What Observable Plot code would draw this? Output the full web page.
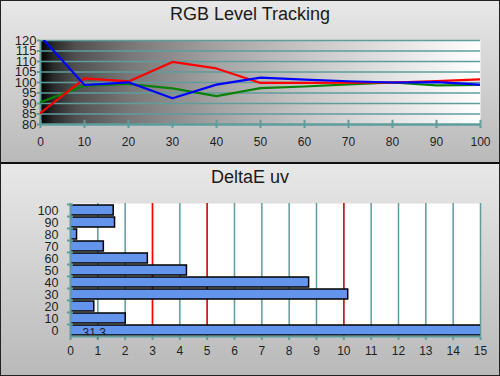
<!DOCTYPE html>
<html>
<head>
<meta charset="utf-8">
<script src="https://cdn.jsdelivr.net/npm/d3@7"></script>
<script src="https://cdn.jsdelivr.net/npm/@observablehq/plot@0.6"></script>
<style>
  html, body { margin: 0; padding: 0; background: #fff; }
  #chart { position: relative; width: 500px; height: 376px; overflow: hidden; font-family: "Liberation Sans", Arial, sans-serif; }
  .panel { position: absolute; left: 0; width: 500px; background: linear-gradient(#e8e8e8, #b9b9b9); }
  .panel svg { position: absolute; left: 0; top: 0; overflow: visible; }
  .title { position: absolute; left: 0; width: 500px; top: 5px; text-align: center; font-size: 18px; line-height: 18px; color: #1a1a1a; z-index: 2; }
  #p2 .title { top: 4px; }
  .panel svg text { fill: #1e1e1e; }
  #p1 [aria-label^="y-axis"] text { font-size: 13px; }
  #p2 [aria-label^="y-axis"] text { font-size: 12.5px; }
  [aria-label^="x-axis"] line, [aria-label^="x-axis"] path { stroke-width: 2px; }
  [aria-label^="y-axis"] line, [aria-label^="y-axis"] path { stroke-width: 2px; }
  #border { position: absolute; left: 0; top: 0; width: 500px; height: 376px; box-sizing: border-box; border: 1px solid #222; pointer-events: none; z-index: 5; }
  #divider { position: absolute; left: 0; top: 162px; width: 500px; height: 2px; background: #111; z-index: 5; }
</style>
</head>
<body>
<div id="chart">
  <div class="panel" id="p1" style="top:0;height:163px;"><div class="title">RGB Level Tracking</div></div>
  <div class="panel" id="p2" style="top:164px;height:212px;"><div class="title">DeltaE uv</div></div>
  <div id="divider"></div>
  <div id="border"></div>
</div>
<script>
// ---- Data: RGB Level Tracking ----
const levels = [0, 10, 20, 30, 40, 50, 60, 70, 80, 90, 100];
const redValues   = [85.5, 102, 100.5, 109.8, 106.7, 99.8, 99.8, 99.9, 100, 100.7, 101.5];
const greenValues = [90.6, 98.5, 99.3, 97.2, 93.5, 97.3, 98.1, 99.1, 100, 98.6, 98.8];
const blueValues  = [122, 98.8, 100.1, 92.5, 99, 102.3, 101.4, 100.6, 100, 100.2, 99];
const levelTicks = [0, 10, 20, 30, 40, 50, 60, 70, 80, 90, 100];
const percentTicks = [80, 85, 90, 95, 100, 105, 110, 115, 120];

// ---- Data: DeltaE uv ----
const deCategories = ["100", "90", "80", "70", "60", "50", "40", "30", "20", "10", "0"];
const deValues = [1.58, 1.63, 0.24, 1.22, 2.83, 4.26, 8.73, 10.16, 0.87, 2.02, 31.3];
const deTicks = [0, 1, 2, 3, 4, 5, 6, 7, 8, 9, 10, 11, 12, 13, 14, 15];
const deLimits = [3, 5, 10];

const teal = "#5f9c9c";
const font = "'Liberation Sans', Arial, sans-serif";

const series = (vals) => levels.map((l, i) => ({level: l, value: vals[i]}));

const topChart = Plot.plot({
  width: 500, height: 163,
  marginLeft: 40, marginRight: 20, marginTop: 40, marginBottom: 39,
  style: {background: "transparent", color: teal, fontFamily: font, fontSize: "12px"},
  x: {domain: [0, 100], ticks: levelTicks, tickSize: 4, tickPadding: 9, tickFormat: d => d, label: null},
  y: {domain: [80, 120], ticks: percentTicks, tickSize: 3, tickPadding: 1, tickFormat: d => d, label: null},
  marks: [
    Plot.frame({fill: "url(#bwgrad)", stroke: "none"}),
    Plot.ruleY(percentTicks.filter(d => d > 80), {stroke: teal, strokeWidth: 1.5}),
    Plot.ruleY([80], {stroke: teal, strokeWidth: 2.5}),
    Plot.ruleX([0], {stroke: teal, strokeWidth: 2}),
    Plot.ruleX(levelTicks, {y1: 80, y2: 82, stroke: teal, strokeWidth: 2}),
    Plot.line(series(greenValues), {x: "level", y: "value", stroke: "#0a820a", strokeWidth: 2.2, clip: true}),
    Plot.line(series(redValues), {x: "level", y: "value", stroke: "#ff0000", strokeWidth: 2.2, clip: true}),
    Plot.line(series(blueValues), {x: "level", y: "value", stroke: "#0000ff", strokeWidth: 2.2, clip: true})
  ]
});
// gradient definition for the plot background
const ns = "http://www.w3.org/2000/svg";
const defs = document.createElementNS(ns, "defs");
const grad = document.createElementNS(ns, "linearGradient");
grad.setAttribute("id", "bwgrad");
grad.setAttribute("x1", "0"); grad.setAttribute("x2", "1"); grad.setAttribute("y1", "0"); grad.setAttribute("y2", "0");
[[0, "#000"], [0.03, "#2a2a2a"], [0.08, "#505050"], [0.2, "#777"], [0.4, "#a3a3a3"], [0.6, "#c6c6c6"], [0.8, "#e3e3e3"], [1, "#fff"]].forEach(([o, c]) => {
  const s = document.createElementNS(ns, "stop");
  s.setAttribute("offset", o); s.setAttribute("stop-color", c);
  grad.appendChild(s);
});
defs.appendChild(grad);
topChart.insertBefore(defs, topChart.firstChild);
document.getElementById("p1").appendChild(topChart);

const deRows = deCategories.map((c, i) => ({level: c, value: deValues[i]}));

const bottomChart = Plot.plot({
  width: 500, height: 212,
  marginLeft: 70, marginRight: 20, marginTop: 39, marginBottom: 40,
  style: {background: "transparent", color: teal, fontFamily: font, fontSize: "12px"},
  x: {domain: [0, 15], ticks: deTicks, tickSize: 4, tickPadding: 6, tickFormat: d => d, label: null},
  y: {domain: deCategories, paddingInner: 0.2, paddingOuter: 0.1, tickSize: 0, tickPadding: 12, label: null},
  marks: [
    Plot.frame({fill: "white", stroke: "none"}),
    Plot.ruleX(deTicks.filter(d => d > 0), {stroke: teal, strokeWidth: 1.5}),
    Plot.ruleX(deLimits, {stroke: "#ff0000", strokeWidth: 1.5}),
    Plot.barX(deRows, {x: "value", y: "level", fill: "#6495ed", stroke: "#000", strokeWidth: 1.5, clip: true}),
    Plot.text(deRows.filter(d => d.value > 15), {x: 0, y: "level", text: d => String(d.value).replace(".", ","), textAnchor: "start", dx: 12, dy: 3, fill: "#1e1e1e", fontSize: 12}),
    Plot.ruleX([0], {stroke: teal, strokeWidth: 2}),
    Plot.ruleY(deCategories.slice(-1), {y: d => d, dy: 6, stroke: teal, strokeWidth: 2}),
    Plot.ruleY(deCategories, {y: d => d, x1: -0.11, x2: 0.11, dy: -6, stroke: teal, strokeWidth: 2})
  ]
});
document.getElementById("p2").appendChild(bottomChart);
</script>
</body>
</html>
